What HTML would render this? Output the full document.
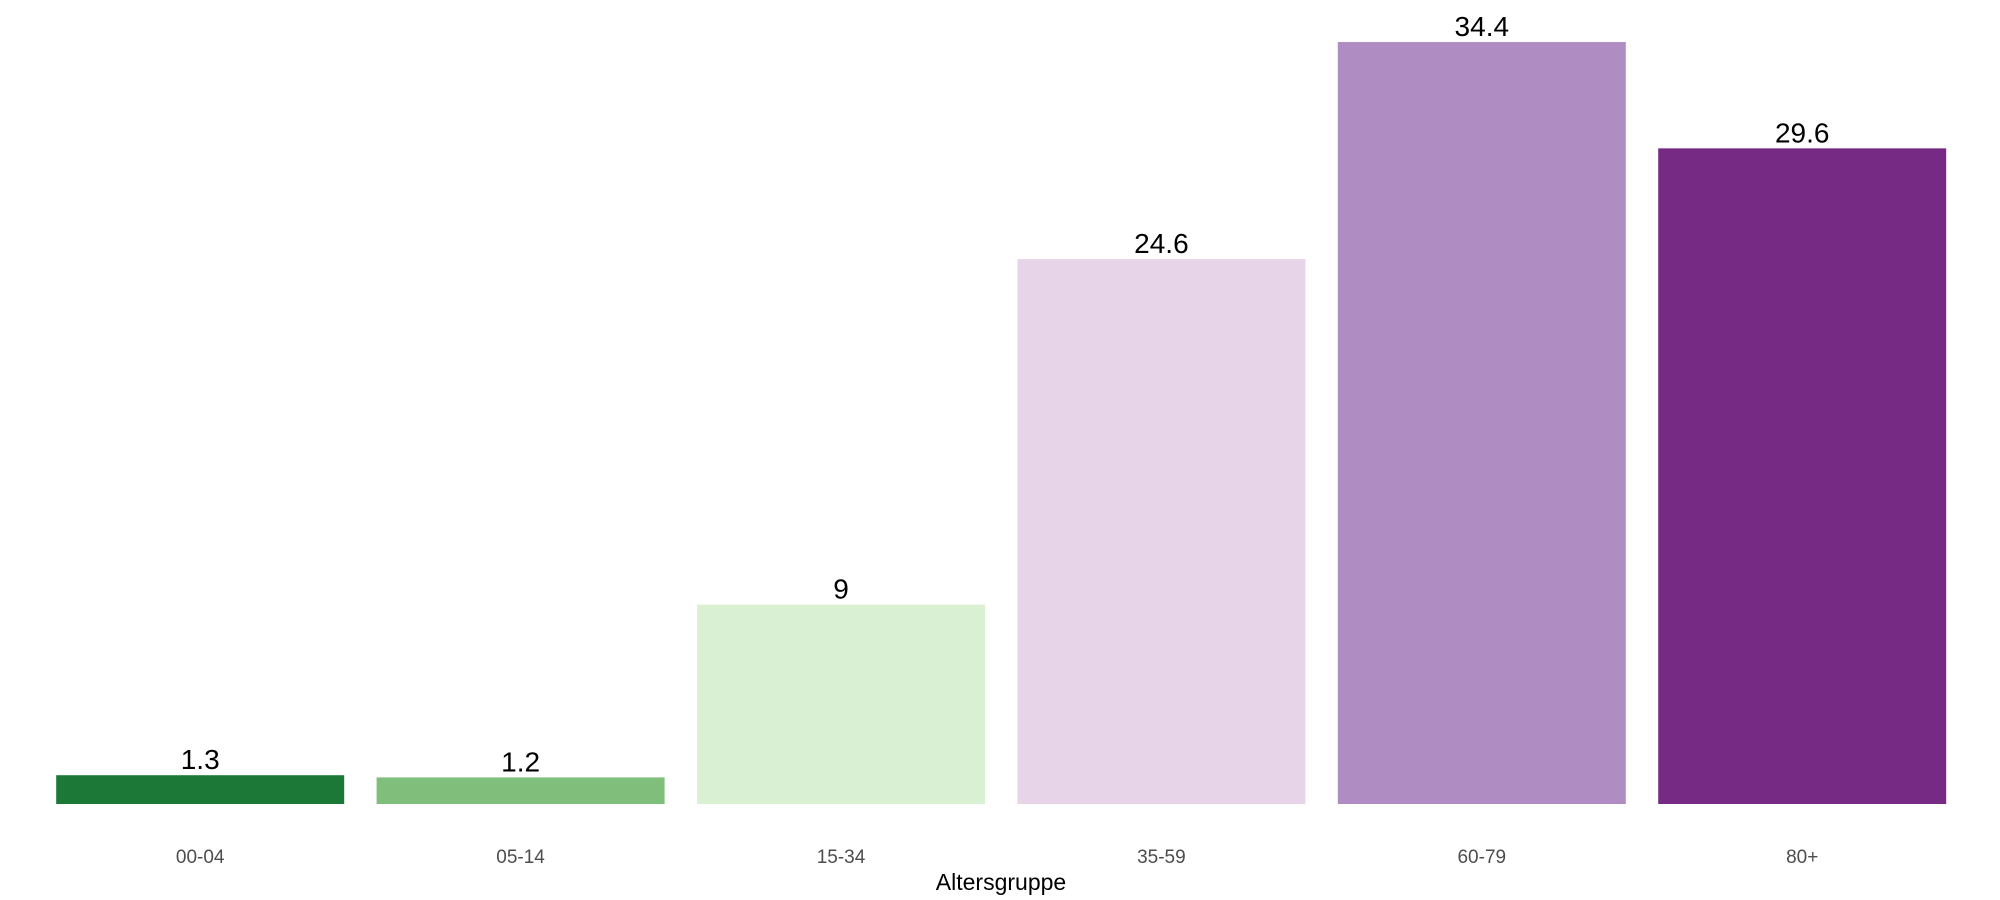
<!DOCTYPE html>
<html><head><meta charset="utf-8"><style>
html,body{margin:0;padding:0;background:#fff;}
svg{display:block;font-family:"Liberation Sans",Arial,sans-serif;}
</style></head><body>
<svg id="chart" width="2000" height="900" viewBox="0 0 2000 900">
<g id="bars"></g>
<g id="labels"></g>
<g id="ticks"></g>
<text x="1001" y="890" font-size="23" text-anchor="middle" fill="#000">Altersgruppe</text>
</svg>
<script>
const categories = ["00-04","05-14","15-34","35-59","60-79","80+"];
const values = [1.3, 1.2, 9, 24.6, 34.4, 29.6];
const valueLabels = ["1.3","1.2","9","24.6","34.4","29.6"];
const colors = ["#1b7837","#7fbf7b","#d9f0d3","#e7d4e8","#af8dc3","#762a83"];

const NS = "http://www.w3.org/2000/svg";
const left = 40, pitch = 320.4, barW = 288, baseY = 804, pxPerUnit = 22.15;
function xCenter(i){ return left + pitch*i + pitch/2; }
function yScale(v){ return baseY - v*pxPerUnit; }

const gB = document.getElementById('bars');
const gL = document.getElementById('labels');
const gT = document.getElementById('ticks');
categories.forEach((c,i)=>{
  const r = document.createElementNS(NS,'rect');
  r.setAttribute('x', xCenter(i)-barW/2);
  r.setAttribute('y', yScale(values[i]));
  r.setAttribute('width', barW);
  r.setAttribute('height', baseY - yScale(values[i]));
  r.setAttribute('fill', colors[i]);
  
  
  gB.appendChild(r);

  const t = document.createElementNS(NS,'text');
  t.setAttribute('x', xCenter(i));
  t.setAttribute('y', yScale(values[i]) - 6);
  t.setAttribute('font-size', '28');
  t.setAttribute('text-anchor', 'middle');
  t.setAttribute('fill', '#000');
  t.textContent = valueLabels[i];
  
  
  gL.appendChild(t);

  const k = document.createElementNS(NS,'text');
  k.setAttribute('x', xCenter(i));
  k.setAttribute('y', 863);
  k.setAttribute('font-size', '19');
  k.setAttribute('text-anchor', 'middle');
  k.setAttribute('fill', '#4d4d4d');
  k.textContent = c;
  
  
  gT.appendChild(k);
});
</script>
</body></html>
